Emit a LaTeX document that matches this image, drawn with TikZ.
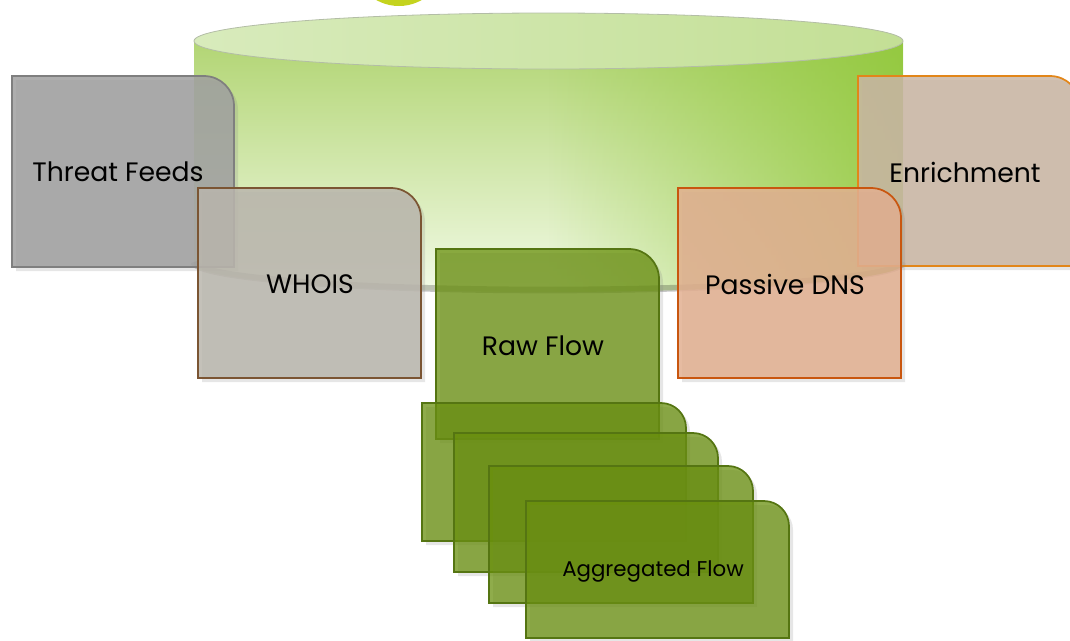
\documentclass[tikz,border=0pt]{standalone}
\usepackage{fontspec}
\setmainfont{Poppins}
\usetikzlibrary{shadows,fadings}

\definecolor{ringyellow}{HTML}{C4D31E}
\definecolor{canbodytop}{HTML}{B2D574}
\definecolor{canbodybottom}{HTML}{F2FAE6}
\definecolor{canright}{HTML}{8DC633}
\definecolor{cantopleft}{HTML}{D8EBBC}
\definecolor{cantopright}{HTML}{C3DF95}
\definecolor{cantopedge}{HTML}{B3BDA6}
\definecolor{threatfill}{HTML}{A0A0A0}
\definecolor{threatdraw}{HTML}{7F7F7F}
\definecolor{whoisfill}{HTML}{BAB6AD}
\definecolor{whoisdraw}{HTML}{7B5533}
\definecolor{enrichfill}{HTML}{CAB6A4}
\definecolor{enrichdraw}{HTML}{E2861A}
\definecolor{dnsfill}{HTML}{E2AF90}
\definecolor{dnsdraw}{HTML}{C9560F}
\definecolor{flowfill}{HTML}{688F0C}
\definecolor{flowdraw}{HTML}{557512}

\tikzset{every picture/.style={line width=0.75pt}}
\tikzset{
	sheet/.style={line width=1.3, fill opacity=0.85,
		drop shadow={opacity=0.2, shadow xshift=3pt, shadow yshift=-3pt}},
	flowsheet/.style={sheet, fill=flowfill, draw=flowdraw, fill opacity=0.74},
	sheettext/.style={font=\fontsize{20}{24}\selectfont, text=black},
	smalltext/.style={font=\fontsize{16}{19}\selectfont, text=black}}

\begin{document}
\begin{tikzpicture}[x=0.75pt,y=0.75pt,yscale=-1,xscale=1]
	\useasboundingbox (0,0) rectangle (1070,640);
	\clip (0,0) rectangle (1070,640);

	%Shape: Circle (cut by the top edge)
	\fill[ringyellow] (399,-40) circle (46);

	%Shape: Can body
	\path[top color=canbodytop, bottom color=canbodybottom] (194,41) -- (194,264) arc[start angle=180, end angle=0, x radius=354.5, y radius=28] -- (903,41) -- cycle;
	\fill[canright, path fading=west, fill opacity=0.8] (548,41) -- (548,292) arc[start angle=90, end angle=0, x radius=355, y radius=28] -- (903,41) -- cycle;
	%Shape: Can bottom shadow
	\draw[black, opacity=0.22, line width=5] (194,262) arc[start angle=180, end angle=0, x radius=354.5, y radius=28];
	%Shape: Can top
	\draw[cantopedge, line width=0.6, left color=cantopleft, right color=cantopright] (548.5,41) ellipse [x radius=354.5, y radius=28];

	%Shape: Threat Feeds sheet
	\draw[sheet, fill=threatfill, draw=threatdraw] (12,267) -- (12,76) -- (204,76) arc[start angle=-90, end angle=0, radius=30] -- (234,267) -- cycle;
	%Shape: WHOIS sheet
	\draw[sheet, fill=whoisfill, draw=whoisdraw] (198,378) -- (198,188) -- (391,188) arc[start angle=-90, end angle=0, radius=30] -- (421,378) -- cycle;
	%Shape: Enrichment sheet
	\draw[sheet, fill=enrichfill, draw=enrichdraw] (858,266) -- (858,76) -- (1050,76) arc[start angle=-90, end angle=0, radius=30] -- (1080,266) -- cycle;
	%Shape: Passive DNS sheet
	\draw[sheet, fill=dnsfill, draw=dnsdraw] (678,378) -- (678,188) -- (871,188) arc[start angle=-90, end angle=0, radius=30] -- (901,378) -- cycle;
	%Shape: Raw Flow sheet
	\draw[flowsheet] (436,439) -- (436,249) -- (629,249) arc[start angle=-90, end angle=0, radius=30] -- (659,439) -- cycle;
	%Shape: Aggregated sheets
	\draw[flowsheet] (422,541) -- (422,403) -- (661,403) arc[start angle=-90, end angle=0, radius=25] -- (686,541) -- cycle;
	\draw[flowsheet] (454,572) -- (454,433) -- (693,433) arc[start angle=-90, end angle=0, radius=25] -- (718,572) -- cycle;
	\draw[flowsheet] (489,603) -- (489,466) -- (728,466) arc[start angle=-90, end angle=0, radius=25] -- (753,603) -- cycle;
	\draw[flowsheet] (526,638) -- (526,501) -- (764,501) arc[start angle=-90, end angle=0, radius=25] -- (789,638) -- cycle;

	% Text Node
	\node[sheettext] (threat) at (118,172) {Threat Feeds};
	% Text Node
	\node[sheettext] (whois) at (310,284) {WHOIS};
	% Text Node
	\node[sheettext] (enrich) at (965,172) {Enrichment};
	% Text Node
	\node[sheettext] (dns) at (785,284) {Passive DNS};
	% Text Node
	\node[sheettext] (raw) at (543,346) {Raw Flow};
	% Text Node
	\node[smalltext] (aggregated) at (653,571) {Aggregated Flow};

\end{tikzpicture}
\end{document}
